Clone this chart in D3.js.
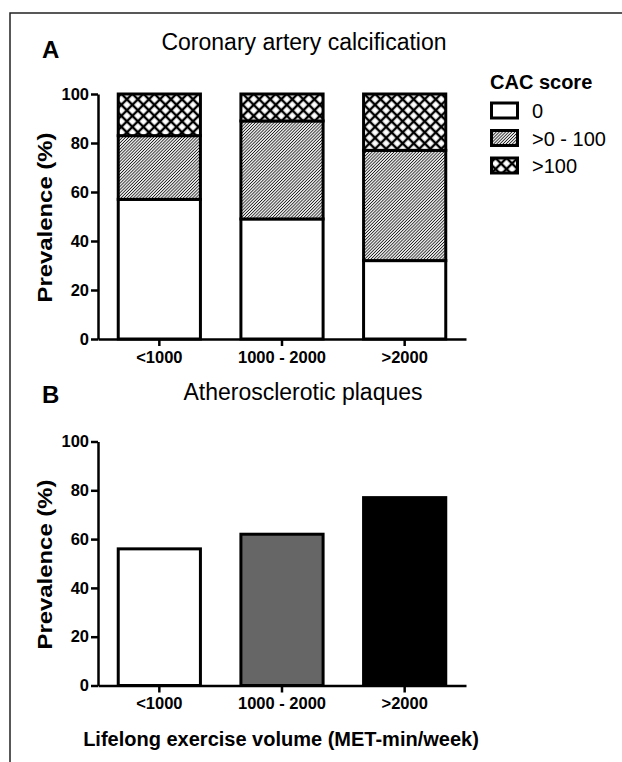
<!DOCTYPE html>
<html>
<head>
<meta charset="utf-8">
<script src="https://cdn.jsdelivr.net/npm/d3@7"></script>
<style>
  body { margin: 0; background: #fff; }
  svg { display: block; font-family: "Liberation Sans", Arial, sans-serif; }
</style>
</head>
<body>
<div id="chart"></div>
<script>
const categories = ["<1000", "1000 - 2000", ">2000"];
const cacZero = [57, 49, 32];
const cacLow = [26, 40, 45];
const cacHigh = [17, 11, 23];
const plaques = [56, 62, 77];
const plaqueFills = ["#ffffff", "#666666", "#000000"];
const yTicks = [0, 20, 40, 60, 80, 100];
const cacLabels = ["0", ">0 - 100", ">100"];

const W = 622, H = 762;
const svg = d3.select("#chart").append("svg").attr("width", W).attr("height", H);

// patterns
const defs = svg.append("defs");
const hatch = defs.append("pattern").attr("id", "hatch")
  .attr("patternUnits", "userSpaceOnUse").attr("width", 2.2).attr("height", 10)
  .attr("patternTransform", "rotate(45)");
hatch.append("rect").attr("width", 2.2).attr("height", 10).attr("fill", "#fff");
hatch.append("path").attr("d", "M1.1,0V10").attr("stroke", "#1a1a1a").attr("stroke-width", 0.9);

const cross = defs.append("pattern").attr("id", "cross")
  .attr("patternUnits", "userSpaceOnUse").attr("width", 7.8).attr("height", 7.8)
  .attr("patternTransform", "rotate(45)");
cross.append("rect").attr("width", 7.8).attr("height", 7.8).attr("fill", "#fff");
cross.append("path").attr("d", "M0,3.9H7.8M3.9,0V7.8").attr("stroke", "#000").attr("stroke-width", 2.4);

const cacFills = ["#ffffff", "url(#hatch)", "url(#cross)"];

// frame
svg.append("path").attr("d", `M10,${H}V13H${W}`).attr("fill", "none")
  .attr("stroke", "#222").attr("stroke-width", 1.5);

const x = d3.scaleBand().domain(categories).range([98, 466])
  .paddingInner(0.33).paddingOuter(0.165);

function axes(yScale) {
  const g = svg.append("g");
  g.append("g").attr("transform", "translate(98,0)")
    .call(d3.axisLeft(yScale).tickValues(yTicks).tickSize(7).tickSizeOuter(0).tickPadding(2));
  g.append("g").attr("transform", `translate(0,${yScale(0)})`)
    .call(d3.axisBottom(x).tickSize(7).tickSizeOuter(0).tickPadding(5));
  g.selectAll(".domain, .tick line").attr("stroke", "#000").attr("stroke-width", 2.5);
  g.selectAll(".tick text").attr("fill", "#000").style("font-size", "16.5px").style("font-weight", "bold")
    .style("font-family", "Liberation Sans, Arial, sans-serif");
  const mid = (yScale.range()[0] + yScale.range()[1]) / 2 + 1;
  svg.append("text")
    .attr("transform", `translate(52,${mid}) rotate(-90)`)
    .attr("text-anchor", "middle")
    .attr("textLength", 170).attr("lengthAdjust", "spacingAndGlyphs")
    .style("font-size", "20px").style("font-weight", "bold")
    .text("Prevalence (%)");
}

// Panel A
const yA = d3.scaleLinear().domain([0, 100]).range([339, 94]);
const stackData = categories.map((c, i) => ({ cat: c, zero: cacZero[i], low: cacLow[i], high: cacHigh[i] }));
const series = d3.stack().keys(["zero", "low", "high"])(stackData);

svg.append("g").selectAll("g").data(series).join("g")
  .attr("fill", (d, i) => cacFills[i])
  .selectAll("rect").data(d => d).join("rect")
  .attr("x", d => x(d.data.cat))
  .attr("width", x.bandwidth())
  .attr("y", d => yA(d[1]))
  .attr("height", d => yA(d[0]) - yA(d[1]))
  .attr("stroke", "#000").attr("stroke-width", 3);

axes(yA);

svg.append("text").attr("x", 42).attr("y", 58).style("font-size", "24px").style("font-weight", "bold").text("A");
svg.append("text").attr("x", 304).attr("y", 50).attr("text-anchor", "middle")
  .style("font-size", "23px").text("Coronary artery calcification");

// legend
const leg = svg.append("g").attr("transform", "translate(490,0)");
leg.append("text").attr("x", 0).attr("y", 89).style("font-size", "20px").style("font-weight", "bold").text("CAC score");
const li = leg.selectAll("g.item").data(cacLabels).join("g").attr("class", "item")
  .attr("transform", (d, i) => `translate(0,${103 + i * 27.5})`);
li.append("rect").attr("x", 1.5).attr("y", 0).attr("width", 26).attr("height", 15)
  .attr("fill", (d, i) => cacFills[i]).attr("stroke", "#000").attr("stroke-width", 3);
li.append("text").attr("x", 42).attr("y", 15).style("font-size", "20px").text(d => d);

// Panel B
const yB = d3.scaleLinear().domain([0, 100]).range([685.5, 441.5]);
svg.append("g").selectAll("rect").data(plaques).join("rect")
  .attr("x", (d, i) => x(categories[i]))
  .attr("width", x.bandwidth())
  .attr("y", d => yB(d))
  .attr("height", d => yB(0) - yB(d))
  .attr("fill", (d, i) => plaqueFills[i])
  .attr("stroke", "#000").attr("stroke-width", 3);

axes(yB);

svg.append("text").attr("x", 42).attr("y", 403).style("font-size", "24px").style("font-weight", "bold").text("B");
svg.append("text").attr("x", 303).attr("y", 400).attr("text-anchor", "middle")
  .style("font-size", "23px").text("Atherosclerotic plaques");

svg.append("text").attr("x", 281).attr("y", 746).attr("text-anchor", "middle")
  .style("font-size", "20px").style("font-weight", "bold")
  .text("Lifelong exercise volume (MET-min/week)");
</script>
</body>
</html>
